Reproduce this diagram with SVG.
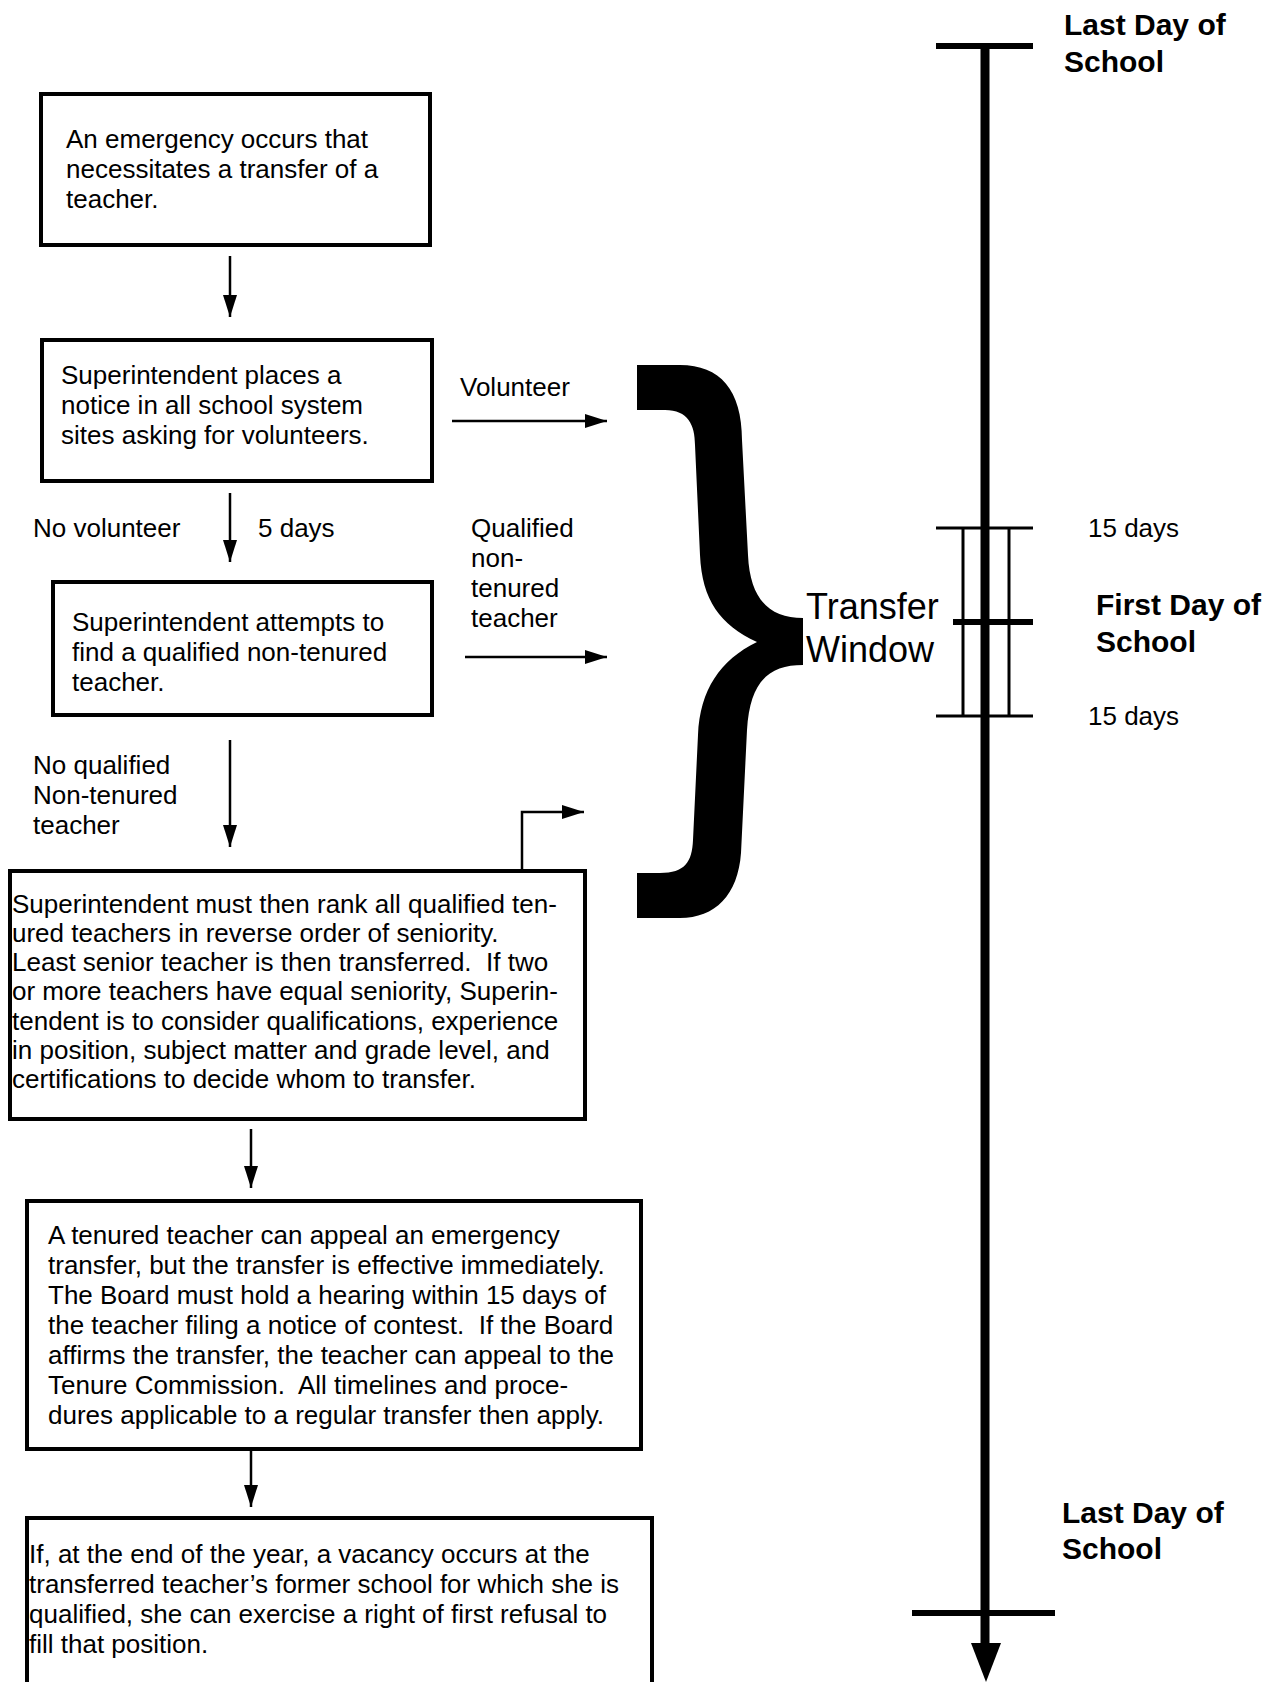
<svg xmlns="http://www.w3.org/2000/svg" width="1275" height="1682" viewBox="0 0 1275 1682">
<style>
.box{fill:#fff;stroke:#000;stroke-width:4}
.t{font-family:"Liberation Sans",Arial,sans-serif;font-size:26px;fill:#000;white-space:pre}
.b{font-family:"Liberation Sans",Arial,sans-serif;font-size:30px;font-weight:bold;fill:#000}
.big{font-family:"Liberation Sans",Arial,sans-serif;font-size:36px;fill:#000}
.c{fill:none;stroke:#000;stroke-width:2.5}
.tl{fill:none;stroke:#000}
</style>
<defs>
<marker id="ah" markerUnits="userSpaceOnUse" markerWidth="22" markerHeight="14" refX="22" refY="7" orient="auto">
<path d="M0,0 L22,7 L0,14 Z" fill="#000"/>
</marker>
</defs>
<rect width="1275" height="1682" fill="#fff"/>

<g id="connectors">
<line class="c" x1="230" y1="256" x2="230" y2="317" marker-end="url(#ah)"/>
<line class="c" x1="230" y1="493" x2="230" y2="562" marker-end="url(#ah)"/>
<line class="c" x1="230" y1="740" x2="230" y2="847" marker-end="url(#ah)"/>
<line class="c" x1="251" y1="1129" x2="251" y2="1188" marker-end="url(#ah)"/>
<line class="c" x1="251" y1="1451" x2="251" y2="1507" marker-end="url(#ah)"/>
<line class="c" x1="452" y1="421" x2="607" y2="421" marker-end="url(#ah)"/>
<line class="c" x1="465" y1="657" x2="607" y2="657" marker-end="url(#ah)"/>
<polyline class="c" points="522,871 522,812 584,812" marker-end="url(#ah)"/>
</g>

<g id="node-emergency">
<rect class="box" x="41" y="94" width="389" height="151"/>
<text class="t" x="66" y="148">An emergency occurs that</text>
<text class="t" x="66" y="178">necessitates a transfer of a</text>
<text class="t" x="66" y="208">teacher.</text>
</g>

<g id="node-notice">
<rect class="box" x="42" y="340" width="390" height="141"/>
<text class="t" x="61" y="384">Superintendent places a</text>
<text class="t" x="61" y="414">notice in all school system</text>
<text class="t" x="61" y="444">sites asking for volunteers.</text>
</g>

<g id="node-find">
<rect class="box" x="53" y="582" width="379" height="133"/>
<text class="t" x="72" y="631">Superintendent attempts to</text>
<text class="t" x="72" y="661">find a qualified non-tenured</text>
<text class="t" x="72" y="691">teacher.</text>
</g>

<g id="node-rank">
<rect class="box" x="10" y="871" width="575" height="248"/>
<text class="t" x="12" y="913">Superintendent must then rank all qualified ten-</text>
<text class="t" x="12" y="942">ured teachers in reverse order of seniority.</text>
<text class="t" x="12" y="971">Least senior teacher is then transferred.  If two</text>
<text class="t" x="12" y="1000">or more teachers have equal seniority, Superin-</text>
<text class="t" x="12" y="1030">tendent is to consider qualifications, experience</text>
<text class="t" x="12" y="1059">in position, subject matter and grade level, and</text>
<text class="t" x="12" y="1088">certifications to decide whom to transfer.</text>
</g>

<g id="node-appeal">
<rect class="box" x="27" y="1201" width="614" height="248"/>
<text class="t" x="48" y="1244">A tenured teacher can appeal an emergency</text>
<text class="t" x="48" y="1274">transfer, but the transfer is effective immediately.</text>
<text class="t" x="48" y="1304">The Board must hold a hearing within 15 days of</text>
<text class="t" x="48" y="1334">the teacher filing a notice of contest.  If the Board</text>
<text class="t" x="48" y="1364">affirms the transfer, the teacher can appeal to the</text>
<text class="t" x="48" y="1394">Tenure Commission.  All timelines and proce-</text>
<text class="t" x="48" y="1424">dures applicable to a regular transfer then apply.</text>
</g>

<g id="node-refusal">
<rect class="box" x="27" y="1518" width="625" height="200"/>
<text class="t" x="29" y="1563">If, at the end of the year, a vacancy occurs at the</text>
<text class="t" x="29" y="1593">transferred teacher’s former school for which she is</text>
<text class="t" x="29" y="1623">qualified, she can exercise a right of first refusal to</text>
<text class="t" x="29" y="1653">fill that position.</text>
</g>

<g id="labels">
<text class="t" x="460" y="396">Volunteer</text>
<text class="t" x="33" y="537">No volunteer</text>
<text class="t" x="258" y="537">5 days</text>
<text class="t" x="471" y="537">Qualified</text>
<text class="t" x="471" y="567">non-</text>
<text class="t" x="471" y="597">tenured</text>
<text class="t" x="471" y="627">teacher</text>
<text class="t" x="33" y="774">No qualified</text>
<text class="t" x="33" y="804">Non-tenured</text>
<text class="t" x="33" y="834">teacher</text>
</g>

<g id="brace">
<path fill="#000" d="M637,365 L680,365 C720,365 742,390 742,440 L748,555 C750,600 770,618 803,618 L803,665 C770,665 750,680 747,730 L741,853 C738,895 715,918 680,918 L637,918 L637,873 L660,873 C685,873 692,862 693,840 L698,735 C700,690 720,660 757,642 C720,625 702,600 700,555 L695,445 C695,425 688,410 665,410 L637,410 Z"/>
<text class="big" x="806" y="619">Transfer</text>
<text class="big" x="806" y="662">Window</text>
</g>

<g id="timeline">
<line class="tl" stroke-width="9" x1="985" y1="46" x2="985" y2="1645"/>
<path d="M971,1643 L1001,1643 L986,1682 Z" fill="#000"/>
<line class="tl" stroke-width="6" x1="936" y1="46" x2="1033" y2="46"/>
<line class="tl" stroke-width="6" x1="912" y1="1613" x2="1055" y2="1613"/>
<line class="tl" stroke-width="3" x1="936" y1="528" x2="1033" y2="528"/>
<line class="tl" stroke-width="6" x1="953" y1="622" x2="1033" y2="622"/>
<line class="tl" stroke-width="3" x1="936" y1="716" x2="1033" y2="716"/>
<line class="tl" stroke-width="3" x1="963" y1="528" x2="963" y2="716"/>
<line class="tl" stroke-width="3" x1="1009" y1="528" x2="1009" y2="716"/>
<text class="b" x="1064" y="35">Last Day of</text>
<text class="b" x="1064" y="72">School</text>
<text class="t" x="1088" y="537">15 days</text>
<text class="b" x="1096" y="615">First Day of</text>
<text class="b" x="1096" y="652">School</text>
<text class="t" x="1088" y="725">15 days</text>
<text class="b" x="1062" y="1523">Last Day of</text>
<text class="b" x="1062" y="1559">School</text>
</g>
</svg>
